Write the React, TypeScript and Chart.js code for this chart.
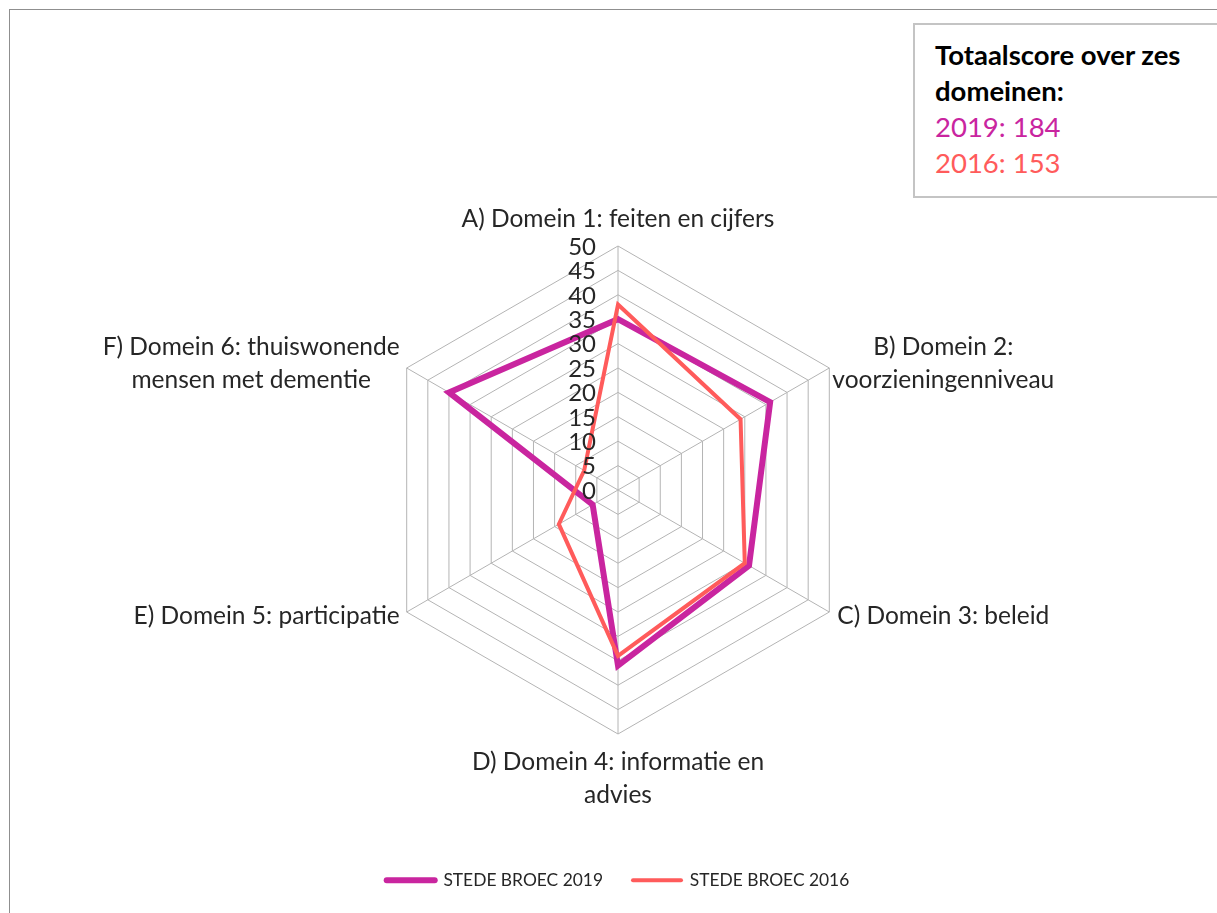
import React, { useEffect, useRef } from 'react';
import { Chart, registerables } from 'chart.js';

Chart.register(...registerables);

const categories: string[][] = [
  ['A) Domein 1: feiten en cijfers'],
  ['B) Domein 2:', 'voorzieningenniveau'],
  ['C) Domein 3: beleid'],
  ['D) Domein 4: informatie en', 'advies'],
  ['E) Domein 5: participatie'],
  ['F) Domein 6: thuiswonende', 'mensen met dementie'],
];
const values2019 = [35, 36, 31, 36, 6, 40];
const values2016 = [38, 29, 30, 34, 14, 8];
const seriesNames = ['STEDE BROEC 2019', 'STEDE BROEC 2016'];
const tickValues = [0, 5, 10, 15, 20, 25, 30, 35, 40, 45, 50];
const totalsTitle = ['Totaalscore over zes', 'domeinen:'];
const totalsLines = ['2019: 184', '2016: 153'];

const MAGENTA = '#C9259F';
const RED = '#FF5B5B';
const FONT = 'Lato';

const labelPlugin = {
  id: 'domainLabels',
  afterDraw(chart: any) {
    const scale = chart.scales.r;
    const ctx = chart.ctx;
    ctx.save();
    ctx.fillStyle = '#262626';
    ctx.textBaseline = 'middle';
    ctx.textAlign = 'center';
    ctx.font = `24.5px ${FONT}`;
    const lh = 33;
    categories.forEach((lines, i) => {
      const p = scale.getPointPosition(i, scale.drawingArea);
      const dx = p.x - scale.xCenter;
      const dy = p.y - scale.yCenter;
      const n = lines.length;
      const blockW = Math.max(...lines.map((t) => ctx.measureText(t).width));
      let cx: number;
      let firstY: number;
      if (Math.abs(dx) < 1) {
        cx = p.x;
        firstY = dy < 0 ? p.y - 27 - (n - 1) * lh : p.y + 28;
      } else {
        cx = dx > 0 ? p.x + 114 : p.x - 7 - blockW / 2;
        const blockCenter = p.y + (dy < 0 ? -4 : 4);
        firstY = blockCenter - ((n - 1) * lh) / 2;
      }
      lines.forEach((t, k) => ctx.fillText(t, cx, firstY + k * lh));
    });
    ctx.font = `24px ${FONT}`;
    ctx.textAlign = 'right';
    tickValues.forEach((v) => {
      const d = scale.getDistanceFromCenterForValue(v);
      ctx.fillText(String(v), scale.xCenter - 22, scale.yCenter - d + 1);
    });
    ctx.restore();
  },
};

export default function App() {
  const ref = useRef<HTMLCanvasElement | null>(null);

  useEffect(() => {
    const canvas = ref.current;
    if (!canvas) return;
    const chart = new Chart(canvas, {
      type: 'radar',
      data: {
        labels: categories.map((c) => c.join(' ')),
        datasets: [
          {
            label: seriesNames[0],
            data: values2019,
            borderColor: MAGENTA,
            backgroundColor: MAGENTA,
            borderWidth: 6,
            fill: false,
            pointRadius: 0,
            pointHoverRadius: 0,
            borderJoinStyle: 'miter',
            order: 1,
          },
          {
            label: seriesNames[1],
            data: values2016,
            borderColor: RED,
            backgroundColor: RED,
            borderWidth: 4,
            fill: false,
            pointRadius: 0,
            pointHoverRadius: 0,
            borderJoinStyle: 'miter',
            order: 0,
          },
        ],
      },
      options: {
        responsive: false,
        animation: false,
        layout: { padding: { top: 245.5, bottom: 14, left: 119, right: 100 } },
        scales: {
          r: {
            min: 0,
            max: 50,
            ticks: { stepSize: 5, display: false },
            grid: { color: '#b4b4b4', lineWidth: 1 },
            angleLines: { color: '#b4b4b4', lineWidth: 1 },
            pointLabels: { display: false },
          },
        },
        plugins: {
          tooltip: { enabled: false },
          legend: {
            position: 'bottom',
            title: { display: true, text: ' ', font: { size: 12 }, padding: { top: 92, bottom: 0 } },
            labels: {
              usePointStyle: true,
              pointStyle: 'line',
              pointStyleWidth: 48,
              padding: 30,
              color: '#262626',
              font: { family: FONT, size: 17.4 },
              sort: (a: any, b: any) => a.datasetIndex - b.datasetIndex,
              generateLabels: (ch: any) => {
                const items = Chart.defaults.plugins.legend.labels.generateLabels(ch);
                return items.map((it: any) => ({ ...it, lineCap: 'round', pointStyle: 'line' }));
              },
            },
          },
        },
      },
      plugins: [labelPlugin],
    } as any);
    return () => chart.destroy();
  }, []);

  return (
    <div style={{ position: 'fixed', left: 0, top: 0, width: 1217, height: 913, overflow: 'hidden', background: '#fff' }}>
      <div
        style={{
          position: 'absolute',
          left: 9,
          top: 9,
          width: 1300,
          height: 1000,
          borderLeft: '1px solid #8f8f8f',
          borderTop: '1px solid #8f8f8f',
        }}
      />
      <canvas ref={ref} width={1217} height={913} style={{ position: 'absolute', left: 0, top: 0, width: 1217, height: 913 }} />
      <div
        style={{
          position: 'absolute',
          left: 913,
          top: 23,
          width: 400,
          height: 159,
          border: '2px solid #c4c4c4',
          background: '#fff',
          boxSizing: 'content-box',
          paddingLeft: 20,
          paddingTop: 12,
          fontFamily: FONT,
          fontSize: 27.5,
          lineHeight: '36px',
        }}
      >
        {totalsTitle.map((t) => (
          <div key={t} style={{ fontWeight: 700, color: '#000' }}>{t}</div>
        ))}
        <div style={{ color: MAGENTA }}>{totalsLines[0]}</div>
        <div style={{ color: RED }}>{totalsLines[1]}</div>
      </div>
    </div>
  );
}
